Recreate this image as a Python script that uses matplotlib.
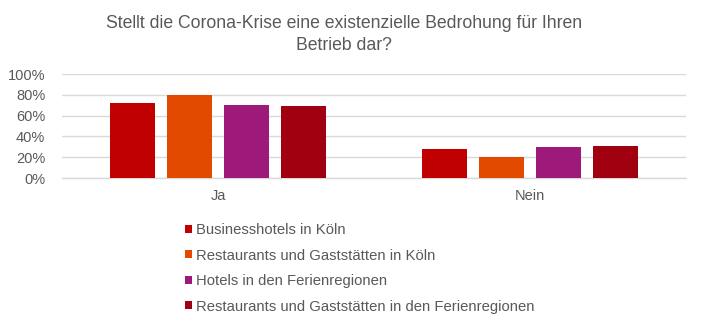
import matplotlib
matplotlib.use("Agg")
import matplotlib.pyplot as plt
from matplotlib.patches import Patch
import numpy as np

plt.rcParams['font.family'] = ['Liberation Sans', 'DejaVu Sans']

categories = ["Ja", "Nein"]
series_names = [
    "Businesshotels in Köln",
    "Restaurants und Gaststätten in Köln",
    "Hotels in den Ferienregionen",
    "Restaurants und Gaststätten in den Ferienregionen",
]
values = [
    [72, 28],
    [80, 20],
    [70, 30],
    [69, 31],
]
colors = ["#C00000", "#E24A00", "#9E1A7A", "#A00010"]
yticks = [0, 20, 40, 60, 80, 100]
ytick_labels = ["0%", "20%", "40%", "60%", "80%", "100%"]
title = "Stellt die Corona-Krise eine existenzielle Bedrohung für Ihren\nBetrieb dar?"

W, H = 705, 328
fig = plt.figure(figsize=(W / 100, H / 100), dpi=100)
TXT = "#595959"

ax = fig.add_axes([62 / W, (H - 178) / H, (686 - 62) / W, 104 / H])
x = np.arange(len(categories))
step, bw = 0.183, 0.144
for i, (name, vals, c) in enumerate(zip(series_names, values, colors)):
    ax.bar(x + (i - 1.5) * step, vals, width=bw, color=c, label=name, zorder=3)

ax.set_xlim(-0.5, 1.5)
ax.set_ylim(0, 100)
ax.set_yticks(yticks)
ax.set_yticklabels(ytick_labels, color=TXT, fontsize=10.5)
ax.set_xticks(x)
ax.set_xticklabels(categories, color=TXT, fontsize=10.5)
ax.tick_params(axis='both', length=0)
ax.tick_params(axis='y', pad=12)
ax.tick_params(axis='x', pad=8)
ax.yaxis.grid(True, color="#D9D9D9", linewidth=1, zorder=0)
for s in ["top", "right", "left"]:
    ax.spines[s].set_visible(False)
ax.spines["bottom"].set_color("#D9D9D9")
ax.spines["bottom"].set_linewidth(1)

fig.text(344 / W, 1 - 15 / H, title, ha="center", va="top", fontsize=12.7,
         color=TXT, linespacing=1.4)

handles = [Patch(facecolor=c, edgecolor="none") for c in colors]
leg = fig.legend(handles, series_names, loc="upper left",
                 bbox_to_anchor=(185 / W, 1 - 223 / H), frameon=False,
                 fontsize=10.7, handlelength=0.45, handleheight=0.45,
                 handletextpad=0.3, labelspacing=0.78, borderaxespad=0,
                 borderpad=0)
for t in leg.get_texts():
    t.set_color(TXT)

fig.savefig("out.png", dpi=100)
